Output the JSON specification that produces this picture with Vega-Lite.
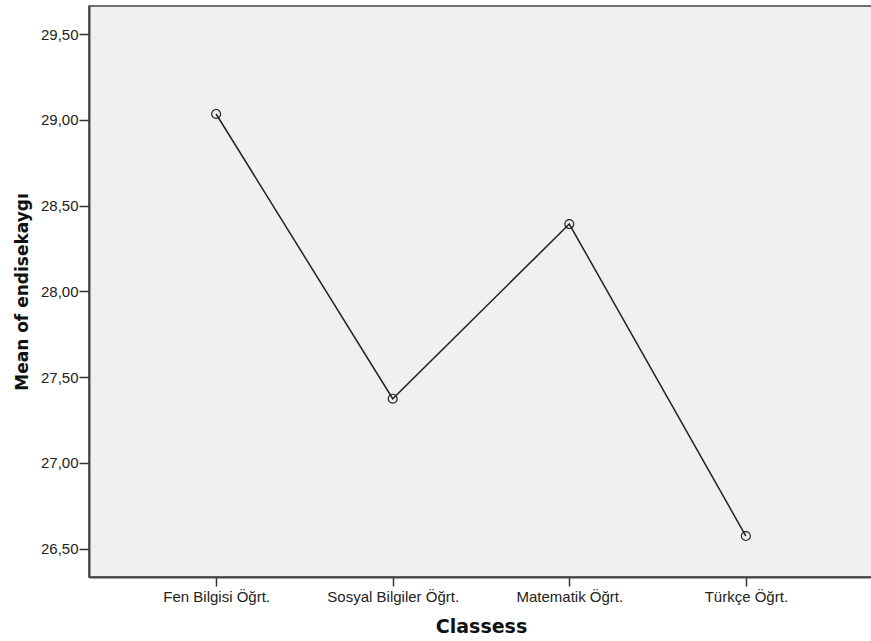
{
  "$schema": "https://vega.github.io/schema/vega-lite/v6.json",
  "autosize": "none",
  "padding": {"left": 89, "top": 6, "right": 0, "bottom": 64},
  "width": 784,
  "height": 571,
  "background": "white",
  "config": {
    "font": "Liberation Sans",
    "view": {"fill": "#f0f0f0", "stroke": "#444444", "strokeWidth": 1.5},
    "axis": {
      "grid": false,
      "domainColor": "#444444",
      "domainWidth": 2,
      "tickColor": "#333333",
      "tickWidth": 1.5,
      "labelColor": "#222222",
      "labelFont": "Liberation Sans",
      "labelFontSize": 15,
      "titleFont": "DejaVu Sans",
      "titleFontWeight": "bold",
      "titleColor": "#111111"
    }
  },
  "data": {
    "values": [
      {"Classess": "Fen Bilgisi Öğrt.", "mean": 29.035},
      {"Classess": "Sosyal Bilgiler Öğrt.", "mean": 27.374},
      {"Classess": "Matematik Öğrt.", "mean": 28.393},
      {"Classess": "Türkçe Öğrt.", "mean": 26.573}
    ]
  },
  "encoding": {
    "x": {
      "field": "Classess",
      "type": "nominal",
      "sort": null,
      "scale": {"type": "point", "padding": 0.72},
      "axis": {
        "title": "Classess",
        "titleFontSize": 19,
        "labelAngle": 0,
        "tickSize": 9,
        "labelPadding": 3,
        "titlePadding": 13
      }
    },
    "y": {
      "field": "mean",
      "type": "quantitative",
      "scale": {"domain": [26.334, 29.665], "nice": false, "zero": false},
      "axis": {
        "title": "Mean of endisekaygı",
        "titleFontSize": 17,
        "values": [26.5, 27, 27.5, 28, 28.5, 29, 29.5],
        "labelExpr": "replace(format(datum.value, '.2f'), '.', ',')",
        "tickSize": 10,
        "labelPadding": 1,
        "titlePadding": 9
      }
    }
  },
  "layer": [
    {
      "mark": {"type": "line", "color": "#222222", "strokeWidth": 1.5}
    },
    {
      "mark": {"type": "point", "shape": "circle", "filled": false, "color": "#222222", "size": 80, "strokeWidth": 1.2, "opacity": 1}
    }
  ]
}
